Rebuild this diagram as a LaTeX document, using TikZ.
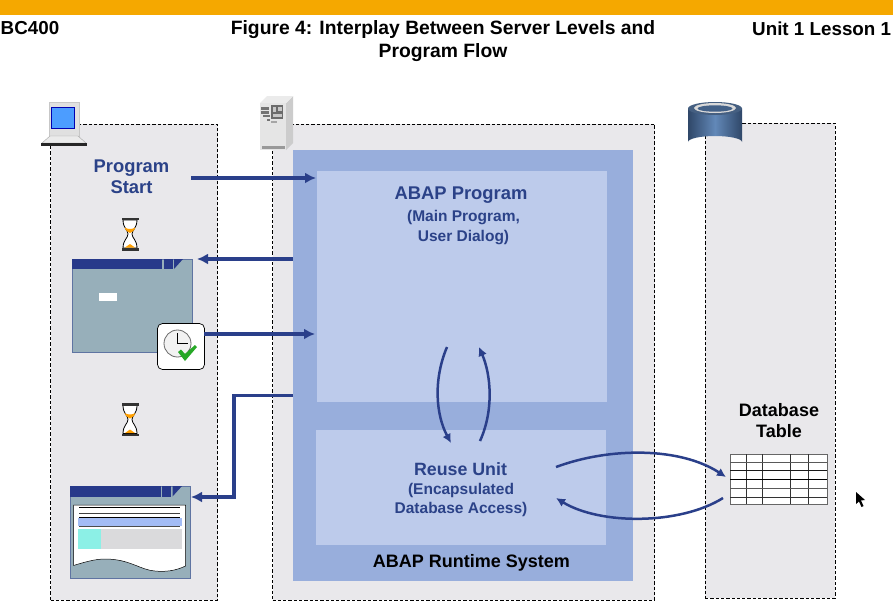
\documentclass[tikz,border=0pt]{standalone}
\usepackage{fontspec}
\setmainfont{Liberation Sans}
\usetikzlibrary{arrows.meta}
\definecolor{orangebar}{HTML}{F5A800}
\definecolor{panelgrey}{HTML}{E9E8EB}
\definecolor{midblue}{HTML}{98AEDC}
\definecolor{lightblue}{HTML}{BDCBEB}
\definecolor{navy}{HTML}{2A3F8A}
\definecolor{textnavy}{HTML}{2B4288}
\definecolor{winbody}{HTML}{97AFBA}
\definecolor{winbar}{HTML}{27398A}
\definecolor{bandblue}{HTML}{A3BCF5}
\definecolor{teal}{HTML}{8CF0E6}
\definecolor{pagegrey}{HTML}{DADADC}
\definecolor{cylmid}{HTML}{6288B8}
\definecolor{cyldark}{HTML}{2F4768}
\tikzset{
  x=1pt,y=-1pt,
  box/.style={anchor=north west,inner sep=0pt,outer sep=0pt},
  panel/.style={box,draw=black,fill=panelgrey,dash pattern=on 3.3pt off 2pt,line width=0.95pt},
  flow/.style={draw=navy,line width=3.4pt,-{Latex[length=11pt,width=11pt]}},
  curveflow/.style={draw=navy,line width=2.5pt,-{Latex[length=9pt,width=9pt]}},
  hd/.style={font=\fontsize{19.3}{23}\selectfont\bfseries,text=black,inner sep=0pt},
  hdside/.style={font=\fontsize{18.8}{23}\selectfont\bfseries,text=black,inner sep=0pt},
  big/.style={font=\fontsize{18.4}{21}\selectfont\bfseries,text=textnavy,inner sep=0pt},
  small/.style={font=\fontsize{15.5}{18}\selectfont\bfseries,text=textnavy,inner sep=0pt},
  blk/.style={font=\fontsize{18}{21}\selectfont\bfseries,text=black,inner sep=0pt},
  hourglass/.pic={
    \fill[white,draw=black,line width=0.8pt] (-7,-14) .. controls (-7,-6) and (-2,-4) .. (-2,0)
       .. controls (-2,4) and (-7,6) .. (-7,14) -- (7,14)
       .. controls (7,6) and (2,4) .. (2,0) .. controls (2,-4) and (7,-6) .. (7,-14) -- cycle;
    \fill[orange!75!yellow] (-5.5,-6.5) .. controls (-4,-2.5) and (-1.5,-2) .. (0,-1) .. controls (1.5,-2) and (4,-2.5) .. (5.5,-6.5)
       .. controls (2,-4.5) and (-2,-4.5) .. cycle;
    \fill[orange!75!yellow] (-5,13.5) -- (0,10) -- (5,13.5) -- cycle;
    \fill[black!80] (-8.5,-16.5) rectangle (8.5,-14);
    \fill[black!80] (-8.5,14) rectangle (8.5,16.5);
  }
}
\begin{document}
\begin{tikzpicture}
\useasboundingbox (0,0) rectangle (893,614);
\fill[white] (0,0) rectangle (893,614);
\node[box,fill=orangebar,minimum width=893pt,minimum height=15pt] (bar) at (0,0) {};

% header
\node[hdside,anchor=west] (hleft) at (0.5,28.5) {BC400};
\node[hd,align=center,anchor=north] (htitle) at (443,20.5) {Figure 4: Interplay Between Server Levels and\\Program Flow};
\node[hdside,anchor=west] (hright) at (752,28.5) {Unit 1 Lesson 1};

% panels
\node[panel,minimum width=167pt,minimum height=476pt] (client) at (50.5,124) {};
\node[panel,minimum width=382pt,minimum height=476pt] (server) at (272.5,124) {};
\node[panel,minimum width=130pt,minimum height=475pt] (dbpanel) at (705,123) {};

% runtime
\node[box,fill=midblue,minimum width=340pt,minimum height=431pt] (runtime) at (293,150) {};
\node[box,fill=lightblue,minimum width=290pt,minimum height=231pt] (program) at (317,171) {};
\node[box,fill=lightblue,minimum width=290pt,minimum height=115pt] (reuse) at (316,430) {};

% texts
\node[big,align=center] (tstart) at (131.5,177) {Program\\Start};
\node[big] (tabap) at (461,195.5) {ABAP Program};
\node[small,align=center] (tmain) at (463.5,227.5) {(Main Program,\\[2pt]User Dialog)};
\node[big,font=\fontsize{17.8}{20}\selectfont\bfseries] (treuse) at (460.5,469.5) {Reuse Unit};
\node[small,align=center] (tenc) at (461,500) {(Encapsulated\\[1pt]Database Access)};
\node[blk] (trun) at (471.5,563) {ABAP Runtime System};
\node[blk,align=center] (tdb) at (779,421) {Database\\Table};

% laptop
\node[box,fill=black!12,draw=black!22,line width=0.4pt,minimum width=30pt,minimum height=34pt] (laptop) at (49,102) {};
\node[box,fill=blue!55!cyan!70,draw=blue!70!black,line width=0.7pt,minimum width=23pt,minimum height=21pt] (lscreen) at (51.5,107) {};
\fill[black!8,draw=black!35,line width=0.4pt] (50,136) -- (78,136) -- (86,143) -- (42,143) -- cycle;
\fill[black!85] (41,143) rectangle (87,145.5);

% server icon
\fill[black!20] (286,103) -- (293,96) -- (293,143) -- (286,150) -- cycle;
\fill[black!8] (260,103) -- (267,96) -- (293,96) -- (286,103) -- cycle;
\node[box,fill=black!10,minimum width=26pt,minimum height=47pt] (srv) at (260,103) {};
\fill[black!58] (271,105) rectangle (283,119);
\fill[black!22] (273,107) rectangle (276,112);
\fill[black!22] (278,107) rectangle (282,111);
\fill[black!22] (273,114) rectangle (282,117);
\fill[black!55] (261,107) rectangle (269,109.5);
\fill[black!55] (261,111) rectangle (269,113.5);
\fill[black!55] (263,115) rectangle (270,117);
\fill[black!55] (267,119) rectangle (270,121);
\fill[black!35] (271,121) rectangle (277,122.5);
\fill[black!40] (262,146) rectangle (285,148.5);

% database cylinder
\shade[left color=cyldark,right color=cyldark,middle color=cylmid] (688,108.5) -- (688,142) arc[start angle=180,end angle=360,x radius=27,y radius=6] -- (742,108.5) -- cycle;
\fill[cylmid!70!black] (715,108.5) ellipse[x radius=27,y radius=6.5];
\fill[black!15] (715,108) ellipse[x radius=21,y radius=5];
\fill[cyldark!60!cylmid] (715,108.5) ellipse[x radius=17.5,y radius=3.2];

% hourglasses
\pic at (130,234) {hourglass};
\pic at (130,419.5) {hourglass};

% window 1
\node[box,fill=winbody,draw=winbar!50!winbody,line width=0.6pt,minimum width=120pt,minimum height=93pt] (win1) at (72,259) {};
\fill[winbar] (72,259) rectangle (162,269);
\fill[winbar] (163.5,259) rectangle (172.5,269);
\fill[winbar] (174,259) -- (183,259) -- (174,269) -- cycle;
\node[box,fill=white,minimum width=18pt,minimum height=8pt] (field) at (98.5,293) {};
\node[box,draw=black,fill=white,rounded corners=5pt,line width=0.7pt,minimum width=47pt,minimum height=46pt] (badge) at (157.5,323.5) {};
\fill[black!5,draw=black!60,line width=0.8pt] (177.5,343.5) circle[radius=13.5];
\draw[black,line width=0.8pt] (177.5,333) -- (177.5,343.5) -- (188,343.5);
\fill[green!60!black!85] (178,352) -- (181,349.5) -- (185,354) -- (195,345) -- (197,347) -- (185,361) -- cycle;

% window 2
\node[box,fill=winbody,draw=winbar!50!winbody,line width=0.6pt,minimum width=120pt,minimum height=92pt] (win2) at (70,486) {};
\fill[winbar] (70,486) rectangle (160.5,496.5);
\fill[winbar] (162,486) rectangle (171,496.5);
\fill[winbar] (172.5,486) -- (182,486) -- (172.5,496.5) -- cycle;
\fill[white,draw=black,line width=0.5pt] (73.5,505) -- (185.5,505) -- (185.5,566)
   .. controls (175,571) and (165,572) .. (155,571)
   .. controls (140,570) and (130,559) .. (105,559)
   .. controls (95,559) and (85,562) .. (73.5,565.5) -- cycle;
\draw[black,line width=0.8pt] (79,507.5) -- (180,507.5);
\draw[black!75,line width=0.8pt] (79,513.5) -- (180,513.5);
\draw[black,line width=0.8pt] (79,517.5) -- (180,517.5);
\fill[bandblue] (78,518) rectangle (182,526);
\draw[black!70,line width=0.8pt] (79,526.5) -- (180,526.5);
\fill[pagegrey] (78,529) rectangle (181.5,548.5);
\fill[teal] (78,529) rectangle (101,548.5);

% database table
\node[box,draw=black!60,fill=white,line width=0.7pt,minimum width=97pt,minimum height=50pt] (dbtable) at (730,454) {};
\foreach \vx in {746.5,762.5,790,808}
  \draw[black!80,line width=0.7pt] (\vx,454) -- (\vx,504);
\foreach \hy/\hc in {462/65,470/90,479/100,488/65,497/80}
  \draw[black!\hc,line width=0.7pt] (730,\hy) -- (827,\hy);

% connector end points
\coordinate (a1) at (191,178);
\coordinate (a2) at (316,178);
\coordinate (b1) at (293,259);
\coordinate (b2) at (197,259);
\coordinate (c1) at (204,334);
\coordinate (c2) at (315,334);
\coordinate (d1) at (293,395.5);
\coordinate (d2) at (234,395.5);
\coordinate (d3) at (234,497);
\coordinate (d4) at (191,497);
\coordinate (e1) at (447,347);
\coordinate (e2) at (451,443);
\coordinate (f1) at (480,441);
\coordinate (f2) at (479,347);
\coordinate (g1) at (556,467);
\coordinate (g2) at (726,477);
\coordinate (h1) at (723,498);
\coordinate (h2) at (556,498);

% connectors
\draw[flow] (a1) -- (a2);
\draw[flow] (b1) -- (b2);
\draw[flow] (c1) -- (c2);
\draw[flow] (d1) -- (d2) -- (d3) -- (d4);
\draw[curveflow] (e1) .. controls (433,380) and (436,415) .. (e2);
\draw[curveflow] (f1) .. controls (494,410) and (491,375) .. (f2);
\draw[curveflow] (g1) .. controls (610,447) and (680,447) .. (g2);
\draw[curveflow] (h1) .. controls (680,525) and (600,525) .. (h2);

% mouse cursor
\fill[black] (856,492) -- (856,504) -- (859,501.5) -- (861.5,507) -- (863.5,506) -- (861,500.5) -- (865,500) -- cycle;
\end{tikzpicture}
\end{document}
